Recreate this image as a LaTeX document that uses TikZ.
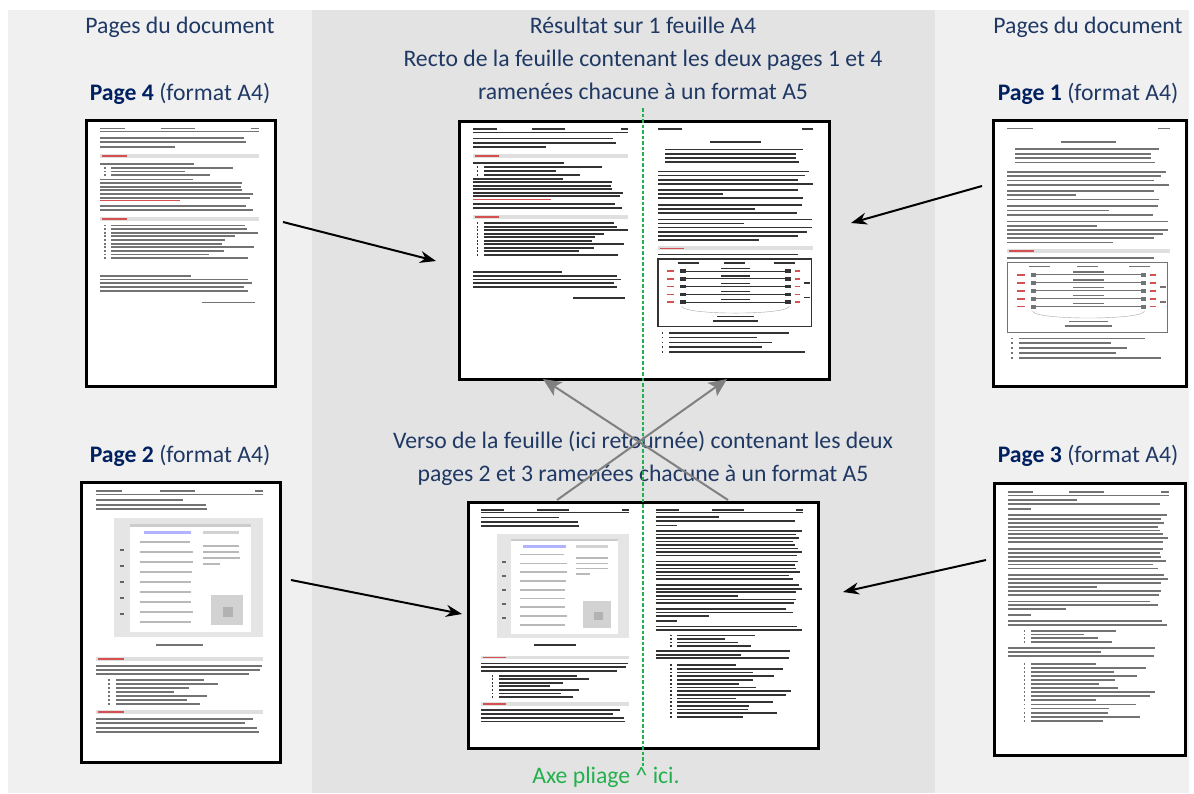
\documentclass[tikz,border=0pt]{standalone}
\usepackage{fontspec}
\setmainfont{Carlito}
\usetikzlibrary{arrows.meta,calc}
\definecolor{navy}{RGB}{31,56,100}
\definecolor{navyb}{RGB}{0,32,96}
\definecolor{pleft}{RGB}{240,240,240}
\definecolor{pmid}{RGB}{227,227,227}
\definecolor{axe}{RGB}{34,177,76}
\definecolor{arrgray}{RGB}{128,128,128}
\definecolor{redtxt}{RGB}{215,80,80}

% text-like bars: x1 x2 ystart n step colour
\newcommand\tlines[6]{%
  \foreach \i in {1,...,#4}{%
    \pgfmathsetmacro\yy{#3+(\i-1)*#5}%
    \pgfmathsetmacro\ww{(#2-#1)*ifthenelse(rnd<0.2,0.3+0.4*rnd,0.88+0.12*rnd)}%
    \fill[#6] (#1,\yy) rectangle ++(\ww,0.95);
  }}
% bullet lines
\newcommand\blines[6]{%
  \foreach \i in {1,...,#4}{%
    \pgfmathsetmacro\yy{#3+(\i-1)*#5}%
    \pgfmathsetmacro\ww{(#2-#1)*(0.5+0.5*rnd)}%
    \fill[#6] (#1-4,\yy) rectangle ++(1,0.95);
    \fill[#6] (#1,\yy) rectangle ++(\ww,0.95);
  }}
\newcommand\pgHeader[1]{%
  \fill[#1] (8,4.6) rectangle (21,5.5);
  \fill[#1] (40,4.6) rectangle (58,5.5);
  \fill[#1] (88,4.6) rectangle (92,5.5);
  \draw[#1, line width=0.6pt] (8,6.6) -- (92,6.6);
}
\newcommand\pgSection[1]{%
  \fill[gray!25] (8,#1) rectangle (92,#1+2.2);
  \fill[redtxt] (9,#1+0.7) rectangle (22,#1+1.5);
}
\newcommand\pgPageFour[1]{%
  \pgfmathsetseed{4}%
  \pgHeader{#1}%
  \tlines{8}{92}{9.5}{3}{2.3}{#1}%
  \pgSection{18.5}%
  \tlines{8}{60}{23}{1}{2}{#1}%
  \blines{14}{80}{25.2}{3}{2}{#1}%
  \tlines{8}{92}{31.4}{6}{1.9}{#1}%
  \fill[redtxt] (8,42.6) rectangle (50,43.4);
  \tlines{8}{92}{45.2}{2}{2.1}{#1}%
  \pgSection{51.6}%
  \blines{14}{92}{55.6}{10}{1.9}{#1}%
  \tlines{8}{92}{82}{5}{2}{#1}%
  \fill[#1] (62,96.2) rectangle (90,97);
}
\newcommand\pgFigure[2]{%
  \draw[#1, line width=#2] (8,75.5) rectangle (91,112);
  \foreach \t in {19,44,71}{\fill[#1] (\t,77.3) rectangle ++(11,0.8);}
  \foreach \v in {82,86.2,90.4,94.6,98.8}{%
    \fill[redtxt] (13,\v-0.4) rectangle (17,\v+0.4);
    \fill[#1] (20,\v-1) rectangle (23,\v+1);
    \draw[#1, line width=1pt] (23,\v) -- (77,\v);
    \fill[#1] (77,\v-1) rectangle (80,\v+1);
    \fill[redtxt] (82,\v-0.4) rectangle (85,\v+0.4);
    \fill[#1] (42,\v-1.9) rectangle (58,\v-1.2);
  }
  \fill[#1] (87,88) rectangle (90,88.8);
  \fill[#1] (87,96) rectangle (90,96.8);
  \draw[gray!70, line width=0.4pt] (21,101) .. controls (21,106) and (79,106) .. (79,101);
  \fill[#1] (40,106.3) rectangle (60,107.1);
  \fill[#1] (38,108.6) rectangle (62,109.4);
}
\newcommand\pgPageOne[2]{%
  \pgfmathsetseed{1}%
  \fill[#1] (8,4.6) rectangle (21,5.4);
  \fill[#1] (86,4.6) rectangle (92,5.4);
  \fill[#1] (36,11.4) rectangle (64,12.6);
  \tlines{12}{88}{15.5}{4}{2.3}{#1}%
  \tlines{8}{92}{27.5}{4}{2.2}{#1}%
  \tlines{8}{92}{37.5}{3}{2.2}{#1}%
  \tlines{8}{92}{45.5}{3}{2.2}{#1}%
  \tlines{8}{92}{53.5}{6}{2.2}{#1}%
  \pgSection{68.5}%
  \tlines{8}{92}{72.5}{1}{2}{#1}%
  \pgFigure{#1}{#2}%
  \blines{14}{88}{115}{5}{2.6}{#1}%
}
\newcommand\pgPageTwo[1]{%
  \pgfmathsetseed{2}%
  \pgHeader{#1}%
  \fill[#1] (8,9) rectangle (52,9.8);
  \tlines{8}{70}{11.4}{2}{2.3}{#1}%
  \fill[gray!20] (17,18.5) rectangle (92,78);
  \fill[white] (25,21.5) rectangle (86,75.5);
  \fill[gray!40] (25,21.5) rectangle (86,23);
  \fill[blue!30] (32,25) rectangle (56,26.6);
  \fill[gray!35] (62,25) rectangle (80,26.6);
  \tlines{30}{58}{30}{9}{5}{gray!55}%
  \tlines{62}{82}{32}{4}{3}{gray!55}%
  \fill[gray!35] (66,57) rectangle (82,72);
  \fill[gray!60] (72,63) rectangle (77,68);
  \foreach \v in {34,42,50,58,66}{\fill[black!60] (20,\v) rectangle ++(2,1.2);}
  \fill[#1] (38,81.5) rectangle (62,82.3);
  \pgSection{88}%
  \tlines{8}{92}{92}{3}{2.1}{#1}%
  \blines{18}{70}{99}{7}{2}{#1}%
  \pgSection{114.5}%
  \tlines{8}{92}{118.5}{4}{2.2}{#1}%
}
\newcommand\pgPageThree[1]{%
  \pgfmathsetseed{3}%
  \pgHeader{#1}%
  \tlines{8}{92}{8.8}{2}{2}{#1}%
  \fill[#1] (8,13.6) rectangle (20,14.4);
  \tlines{8}{92}{16.5}{8}{2}{#1}%
  \tlines{8}{92}{34}{6}{2}{#1}%
  \tlines{8}{92}{47.5}{6}{2}{#1}%
  \tlines{8}{92}{61}{3}{2}{#1}%
  \fill[#1] (8,68) rectangle (20,68.8);
  \tlines{8}{92}{71}{2}{2}{#1}%
  \blines{20}{70}{76}{4}{2}{#1}%
  \tlines{8}{92}{85}{3}{2}{#1}%
  \blines{20}{85}{93}{15}{2.1}{#1}%
}

\tikzset{
  lbl/.style={font=\fontsize{23.7}{28}\selectfont, text=navy, inner sep=0pt, anchor=base},
  pagebox/.style={draw=black, fill=white, line width=2.5pt, inner sep=0pt, anchor=north west},
  sheetbox/.style={draw=black, fill=white, line width=2.8pt, inner sep=0pt, anchor=north west},
  blackarrow/.style={-{Stealth[length=16pt,width=12pt]}, line width=2pt, black},
  grayarrow/.style={-{Stealth[length=18pt,width=16pt,inset=4pt]}, line width=2pt, arrgray},
  axeline/.style={axe, line width=1.3pt, dash pattern=on 3.5pt off 2pt},
}

\begin{document}
\begin{tikzpicture}[x=1pt, y=-1pt]
\useasboundingbox (0,0) rectangle (1194,793);
% panels
\fill[white] (0,0) rectangle (1194,793);
\fill[pleft] (8,10) rectangle (312,793);
\fill[pmid] (312,10) rectangle (935,793);
\fill[pleft] (935,10) rectangle (1189,793);

% headings
\node[lbl] (hl) at (180,33) {Pages du document};
\node[lbl] (hr) at (1088,33) {Pages du document};
\node[lbl] (res1) at (643,33) {Résultat sur 1 feuille A4};
\node[lbl] (res2) at (643,66) {Recto de la feuille contenant les deux pages 1 et 4};
\node[lbl] (res3) at (643,99) {ramenées chacune à un format A5};
\node[lbl] (t4) at (180,100) {\textcolor{navyb}{\bfseries Page 4} (format A4)};
\node[lbl] (t1) at (1088,100) {\textcolor{navyb}{\bfseries Page 1} (format A4)};
\node[lbl] (t2) at (180,462) {\textcolor{navyb}{\bfseries Page 2} (format A4)};
\node[lbl] (t3) at (1088,462) {\textcolor{navyb}{\bfseries Page 3} (format A4)};
\node[lbl] (vs1) at (643,448) {Verso de la feuille (ici retournée) contenant les deux};
\node[lbl] (vs2) at (643,481) {pages 2 et 3 ramenées chacune à un format A5};
\node[lbl, text=axe] (axet) at (606,783) {Axe pliage \^{} ici.};

% page thumbnails
\node[pagebox, minimum width=189pt, minimum height=266pt] (p4) at (85,119) {};
\begin{scope}[shift={(85,119)}, xscale=1.89, yscale=1.9]
  \pgPageFour{black!55}
\end{scope}
\node[pagebox, minimum width=193pt, minimum height=266pt] (p1) at (992,119) {};
\begin{scope}[shift={(992,119)}, xscale=1.93, yscale=1.9]
  \pgPageOne{black!55}{0.4pt}
\end{scope}
\node[pagebox, minimum width=199pt, minimum height=280pt] (p2) at (80,481) {};
\begin{scope}[shift={(80,481)}, xscale=1.99, yscale=2.0]
  \pgPageTwo{black!55}
\end{scope}
\node[pagebox, minimum width=191pt, minimum height=272pt] (p3) at (993,482) {};
\begin{scope}[shift={(993,482)}, xscale=1.91, yscale=1.943]
  \pgPageThree{black!55}
\end{scope}

% recto sheet
\node[sheetbox, minimum width=370pt, minimum height=258pt] (recto) at (458,120) {};
\begin{scope}[shift={(458,120)}, xscale=1.85, yscale=1.843]
  \pgPageFour{black!80}
\end{scope}
\begin{scope}[shift={(643,120)}, xscale=1.85, yscale=1.843]
  \pgPageOne{black!80}{1.6pt}
\end{scope}
% verso sheet
\node[sheetbox, minimum width=350pt, minimum height=246pt] (verso) at (467,501) {};
\begin{scope}[shift={(467,501)}, xscale=1.76, yscale=1.757]
  \pgPageTwo{black!80}
\end{scope}
\begin{scope}[shift={(642,501)}, xscale=1.75, yscale=1.757]
  \pgPageThree{black!80}
\end{scope}

% fold axis
\coordinate (axtop) at (643,108);
\coordinate (axbot) at (643,766);
\draw[axeline] (axtop) -- (axbot);

% black arrows
\coordinate (a4s) at (283,222); \coordinate (a4e) at (436,261);
\coordinate (a1s) at (982,186); \coordinate (a1e) at (851,223);
\coordinate (a2s) at (291,580); \coordinate (a2e) at (462,614);
\coordinate (a3s) at (986,560); \coordinate (a3e) at (843,592);
\draw[blackarrow] (a4s) -- (a4e);
\draw[blackarrow] (a1s) -- (a1e);
\draw[blackarrow] (a2s) -- (a2e);
\draw[blackarrow] (a3s) -- (a3e);

% gray crossing arrows
\coordinate (g1s) at (728,500); \coordinate (g1e) at (543,379);
\coordinate (g2s) at (557,500); \coordinate (g2e) at (727,379);
\draw[grayarrow] (g1s) -- (g1e);
\draw[grayarrow] (g2s) -- (g2e);
\end{tikzpicture}
\end{document}
